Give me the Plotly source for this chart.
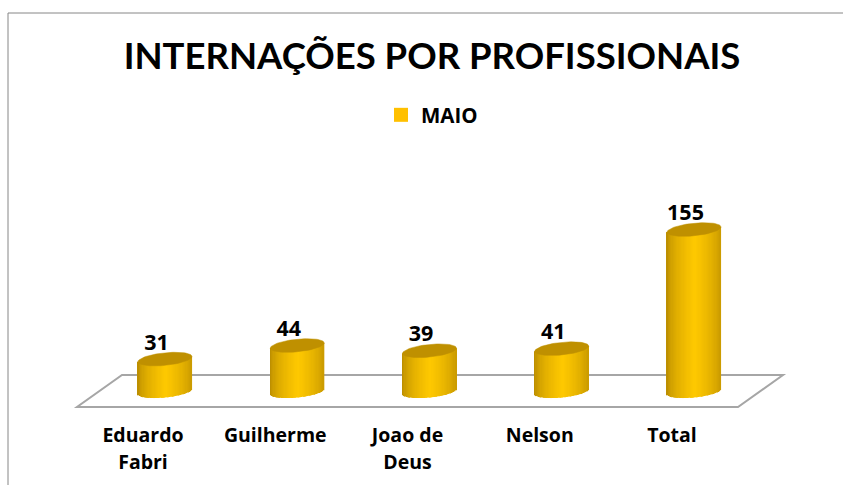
import numpy as np
import plotly.graph_objects as go

categories = ["Eduardo<br>Fabri", "Guilherme", "Joao de<br>Deus", "Nelson", "Total"]
values = [31, 44, 39, 41, 155]
series_name = "MAIO"
title_text = "INTERNAÇÕES POR PROFISSIONAIS"

W, H = 843, 485
BOTTOM = 65
PLOT_H = H - BOTTOM
X0_PX, X_STEP = 165, 132.25
Y0_PX, Y_SCALE = 391.5, 1.045
TICK_SHIFT = 22 / X_STEP
LABEL_SHIFT = 8.5 / X_STEP


def px(x):
    return x / W


def py(y):
    return (PLOT_H - y) / PLOT_H


positions = np.arange(len(values))
half_w = 27 / X_STEP
minor = 6.0 / Y_SCALE
tilt = 2.6 / Y_SCALE
N = 44
edges = np.linspace(-1, 1, N + 1)
mids = (edges[:-1] + edges[1:]) / 2


def shade(t):
    f = np.clip(1 - np.abs(t - 0.05) / 1.05, 0, 1) ** 0.5
    dark = np.array([178, 133, 0])
    light = np.array([255, 201, 0])
    c = dark + (light - dark) * f
    return "rgb(%d,%d,%d)" % tuple(c)


sx, sy, sb, sc = [], [], [], []
for p, v in zip(positions, values):
    for t in mids:
        low = -minor * np.sqrt(1 - t * t) + tilt * t
        top = v + tilt * t
        sx.append(p + t * half_w)
        sb.append(low)
        sy.append(top - low)
        sc.append(shade(t))

fig = go.Figure()
fig.add_trace(go.Bar(
    x=sx, y=sy, base=sb, width=2 * half_w / N * 1.12,
    marker=dict(color=sc, line=dict(width=0)),
    showlegend=False, hoverinfo="skip",
))

theta = np.linspace(0, 2 * np.pi, 73)
ex, ey = [], []
for p, v in zip(positions, values):
    ex += list(p + half_w * np.cos(theta)) + [None]
    ey += list(v + minor * 1.05 * np.sin(theta) + tilt * np.cos(theta)) + [None]
fig.add_trace(go.Scatter(
    x=ex, y=ey, mode="lines", fill="toself", fillcolor="#BF9000",
    line=dict(color="#BF9000", width=0.5), showlegend=False, hoverinfo="skip",
))

fig.add_trace(go.Scatter(
    x=positions - LABEL_SHIFT, y=[v + 4 for v in values], mode="text",
    text=[str(v) for v in values], textposition="top center",
    textfont=dict(family="Open Sans", size=21.5, color="#000000", weight=700),
    showlegend=False, hoverinfo="skip",
))

fig.add_trace(go.Scatter(
    x=[None], y=[None], mode="markers", name=series_name,
    marker=dict(symbol="square", size=14, color="#FFC000"),
))

floor = "M %f %f L %f %f L %f %f L %f %f Z" % (
    px(122), py(375), px(783), py(375), px(738), py(407), px(77), py(407))

fig.update_layout(
    width=W, height=H, autosize=False,
    margin=dict(l=0, r=0, t=0, b=BOTTOM, pad=0),
    paper_bgcolor="#FFFFFF", plot_bgcolor="rgba(0,0,0,0)",
    barmode="overlay",
    title=dict(
        text=title_text, x=432 / W, xref="paper", xanchor="center",
        y=1 - 56 / H, yref="container", yanchor="middle",
        font=dict(family="Lato", size=36.5, color="#000000", weight=700),
    ),
    legend=dict(
        x=px(381), y=py(95), xanchor="left", yanchor="top",
        font=dict(family="Open Sans", size=20.5, color="#000000", weight=700),
        itemsizing="trace", bgcolor="rgba(0,0,0,0)",
    ),
    xaxis=dict(
        range=[(0 - X0_PX) / X_STEP, (W - X0_PX) / X_STEP],
        tickmode="array", tickvals=list(positions - TICK_SHIFT),
        ticktext=['<span style="font-size:19.5px">%s</span>' % c.replace("<br>", '</span><br><span style="font-size:19.5px">') for c in categories],
        tickfont=dict(family="Open Sans", size=20.7, color="#000000", weight=700),
        showgrid=False, zeroline=False, showline=False, ticks="",
        tickangle=0,
    ),
    yaxis=dict(
        range=[(Y0_PX - PLOT_H) / Y_SCALE, Y0_PX / Y_SCALE],
        visible=False, showgrid=False, zeroline=False,
    ),
    shapes=[
        dict(type="path", path=floor, xref="paper", yref="paper",
             line=dict(color="#A6A6A6", width=2), fillcolor="#FFFFFF", layer="below"),
        dict(type="line", xref="paper", yref="paper", x0=px(8), x1=px(W), y0=py(13), y1=py(13),
             line=dict(color="#868686", width=1)),
        dict(type="line", xref="paper", yref="paper", x0=px(8), x1=px(8), y0=py(13), y1=py(H),
             line=dict(color="#868686", width=1)),
    ],
)

fig.write_html("out.html", config=dict(displayModeBar=False),
               post_script="document.body.style.margin='0';document.body.style.overflow='hidden';")
